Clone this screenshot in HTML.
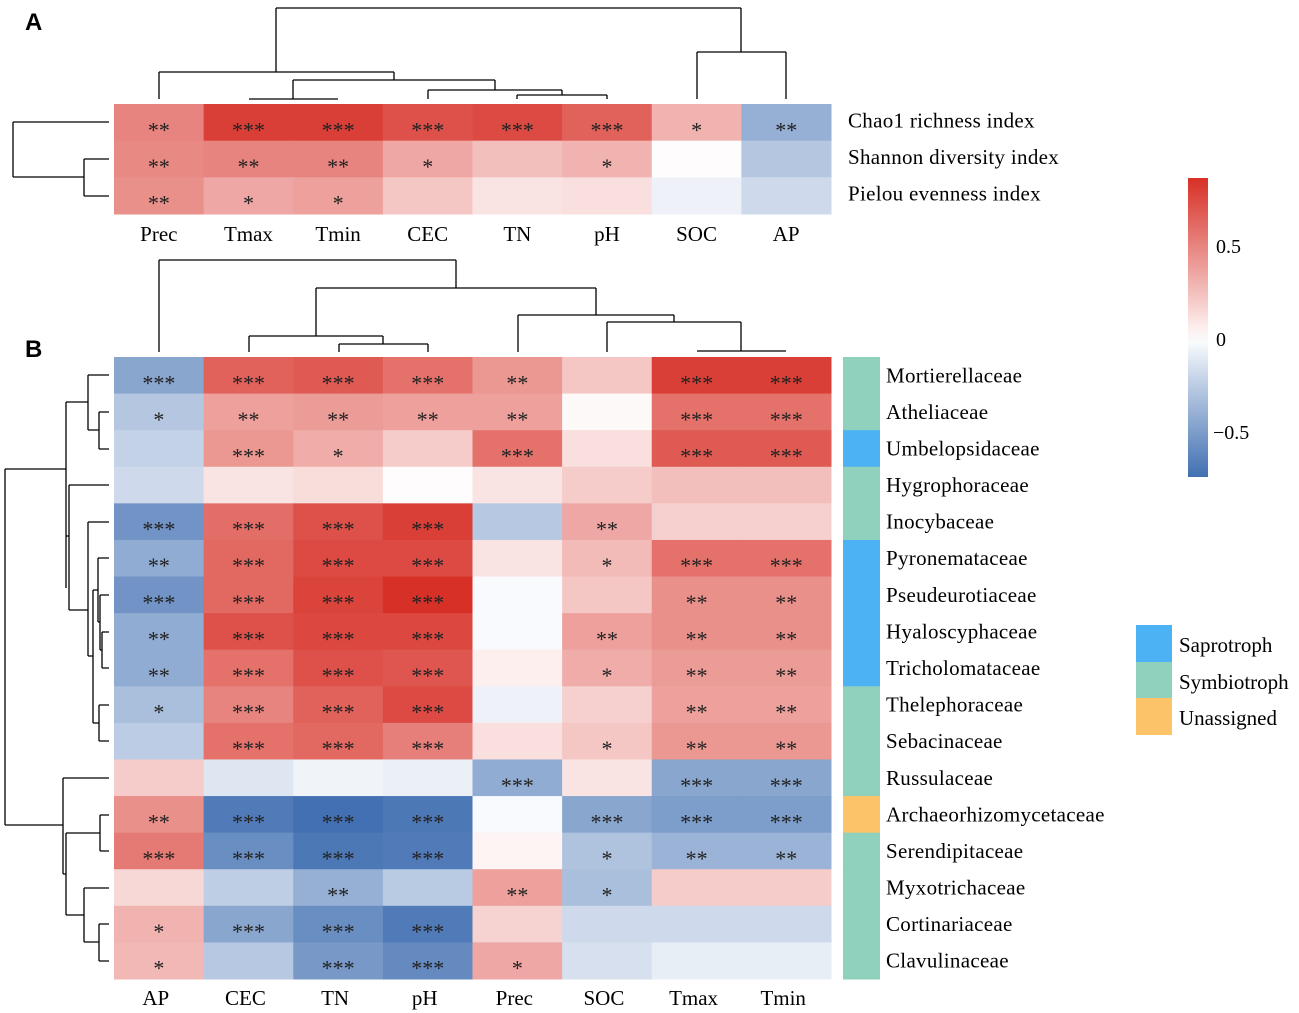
<!DOCTYPE html>
<html><head><meta charset="utf-8"><style>
html,body{margin:0;padding:0;background:#fff;}
svg{display:block;font-family:"Liberation Serif",serif;}
</style></head><body>
<svg id="fig" width="1299" height="1013" viewBox="0 0 1299 1013" xmlns="http://www.w3.org/2000/svg">
<g id="dendro" fill="none" stroke="#000" stroke-width="1.3">
<path d="M276,8H741 M276,8V72 M159,72H394 M159,72V99 M394,72V80 M293,80H495 M293,80V99 M249,99H338 M495,80V90 M428,90H562 M428,90V99 M562,90V95 M517,95H607 M517,95V99 M607,95V99 M741,8V52 M697,52H786 M697,52V99 M786,52V99"/>
<path d="M13,122V177 M13,122H109 M13,177H84 M84,159V196 M84,159H109 M84,196H109"/>
<path d="M159,260H456 M159,260V352 M456,260V288 M316,288H596 M316,288V336 M249,336H383 M249,336V352 M383,336V344 M339,344H428 M339,344V352 M428,344V352 M596,288V315 M518,315H674 M518,315V352 M674,315V322 M607,322H741 M607,322V352 M741,322V351 M697,351H786"/>
<path d="M5,469V825 M5,469H66 M5,825H63
M66,402V588 M66,402H88 M88,375V430 M88,375H109 M88,430H99 M99,412V449 M99,412H109 M99,449H109
M66,536H69 M69,485V610 M69,485H109 M69,610H88 M88,522V656 M88,522H109 M88,656H93 M93,590V723 M93,590H98 M98,558V622 M98,558H109 M98,622H100 M100,595V650 M100,595H109 M100,650H102 M102,632V668 M102,632H109 M102,668H109 M93,723H99 M99,705V741 M99,705H109 M99,741H109
M63,778V874 M63,778H109 M63,874H66 M66,833V915 M66,833H100 M100,815V851 M100,815H109 M100,851H109 M66,915H84 M84,888V942 M84,888H109 M84,942H99 M99,924V961 M99,924H109 M99,961H109"/>
</g>
<g id="cellsA"></g>
<g id="cellsB"></g>
<g id="annot"></g>
<g id="labels"></g>
<text x="25" y="30" font-family="Liberation Sans, sans-serif" font-weight="bold" font-size="24">A</text>
<text x="25" y="357" font-family="Liberation Sans, sans-serif" font-weight="bold" font-size="24">B</text>
<defs><linearGradient id="cbg" x1="0" y1="0" x2="0" y2="1"></linearGradient></defs>
<rect x="1188" y="178" width="20" height="299" fill="url(#cbg)"/>
<text x="1216" y="253" font-size="20">0.5</text>
<text x="1216" y="346" font-size="20">0</text>
<text x="1213" y="439" font-size="20">−0.5</text>
<g>
<rect x="1136" y="625" width="36" height="37" fill="#4DB2F3"/>
<rect x="1136" y="662" width="36" height="36" fill="#8FD1BD"/>
<rect x="1136" y="698" width="36" height="37" fill="#FCC369"/>
<text x="1179" y="652" font-size="21">Saprotroph</text>
<text x="1179" y="689" font-size="21">Symbiotroph</text>
<text x="1179" y="725" font-size="21">Unassigned</text>
</g>
</svg>
<script>
const colsA = ["Prec","Tmax","Tmin","CEC","TN","pH","SOC","AP"];
const rowsA = ["Chao1 richness index","Shannon diversity index","Pielou evenness index"];
const valsA0 = [0.5,0.8,0.8,0.72,0.75,0.65,0.3,-0.4];
const valsA1 = [0.48,0.5,0.5,0.35,0.25,0.3,0.01,-0.28];
const valsA2 = [0.45,0.35,0.38,0.22,0.1,0.12,-0.06,-0.18];
const starsA0 = ["**","***","***","***","***","***","*","**"];
const starsA1 = ["**","**","**","*","","*","",""];
const starsA2 = ["**","*","*","","","","",""];

const colsB = ["AP","CEC","TN","pH","Prec","SOC","Tmax","Tmin"];
const rowsB = ["Mortierellaceae","Atheliaceae","Umbelopsidaceae","Hygrophoraceae","Inocybaceae","Pyronemataceae","Pseudeurotiaceae","Hyaloscyphaceae","Tricholomataceae","Thelephoraceae","Sebacinaceae","Russulaceae","Archaeorhizomycetaceae","Serendipitaceae","Myxotrichaceae","Cortinariaceae","Clavulinaceae"];
const trophB = ["Symbiotroph","Symbiotroph","Saprotroph","Symbiotroph","Symbiotroph","Saprotroph","Saprotroph","Saprotroph","Saprotroph","Symbiotroph","Symbiotroph","Symbiotroph","Unassigned","Symbiotroph","Symbiotroph","Symbiotroph","Symbiotroph"];
const valsB = [
[-0.45,0.65,0.68,0.58,0.42,0.22,0.8,0.8],
[-0.28,0.38,0.4,0.38,0.38,0.02,0.58,0.58],
[-0.22,0.42,0.33,0.2,0.58,0.12,0.68,0.68],
[-0.18,0.1,0.13,0.01,0.1,0.2,0.25,0.25],
[-0.55,0.6,0.72,0.8,-0.27,0.35,0.18,0.18],
[-0.42,0.62,0.75,0.75,0.1,0.27,0.58,0.58],
[-0.55,0.62,0.78,0.88,-0.02,0.22,0.45,0.45],
[-0.42,0.72,0.76,0.76,-0.02,0.38,0.45,0.45],
[-0.42,0.58,0.72,0.7,0.06,0.33,0.4,0.4],
[-0.32,0.5,0.65,0.75,-0.06,0.18,0.38,0.38],
[-0.25,0.58,0.62,0.52,0.12,0.22,0.42,0.42],
[0.2,-0.12,-0.05,-0.07,-0.42,0.1,-0.45,-0.45],
[0.45,-0.68,-0.75,-0.7,-0.02,-0.45,-0.5,-0.5],
[0.55,-0.58,-0.7,-0.68,0.04,-0.3,-0.38,-0.38],
[0.15,-0.24,-0.4,-0.26,0.38,-0.32,0.2,0.2],
[0.3,-0.45,-0.58,-0.68,0.17,-0.18,-0.18,-0.18],
[0.28,-0.27,-0.52,-0.6,0.35,-0.15,-0.08,-0.08]];
const starsB = [
["***","***","***","***","**","","***","***"],
["*","**","**","**","**","","***","***"],
["","***","*","","***","","***","***"],
["","","","","","","",""],
["***","***","***","***","","**","",""],
["**","***","***","***","","*","***","***"],
["***","***","***","***","","","**","**"],
["**","***","***","***","","**","**","**"],
["**","***","***","***","","*","**","**"],
["*","***","***","***","","","**","**"],
["","***","***","***","","*","**","**"],
["","","","","***","","***","***"],
["**","***","***","***","","***","***","***"],
["***","***","***","***","","*","**","**"],
["","","**","","**","*","",""],
["*","***","***","***","","","",""],
["*","","***","***","*","","",""]];

const NS="http://www.w3.org/2000/svg";
const VMAX=0.866, VMIN=-0.742;
const RED=[215,48,39], BLUE=[66,112,178];
function color(v){
  let t, c;
  if(v>=0){t=Math.min(1,v/VMAX);c=RED;}else{t=Math.min(1,v/VMIN);c=BLUE;}
  t=Math.pow(t,0.95);
  const r=Math.round(255+(c[0]-255)*t),g=Math.round(255+(c[1]-255)*t),b=Math.round(255+(c[2]-255)*t);
  return `rgb(${r},${g},${b})`;
}
function mk(tag,attrs,parent){const e=document.createElementNS(NS,tag);for(const k in attrs)e.setAttribute(k,attrs[k]);parent.appendChild(e);return e;}

const grad=document.getElementById('cbg');
for(let i=0;i<=20;i++){const f=i/20;const v=VMAX+(VMIN-VMAX)*f;mk('stop',{offset:f,'stop-color':color(v)},grad);}

function heat(group,x0,y0,cw,ch,cols,rows,vals,stars,prefix){
  rows.forEach((rn,i)=>{
    cols.forEach((cn,j)=>{
      const r=mk('rect',{x:x0+j*cw,y:y0+i*ch,width:cw+0.5,height:ch+0.5,fill:color(vals[i][j])},group);
      
      
      if(stars[i][j]){
        const t=mk('text',{x:x0+(j+0.5)*cw,y:y0+(i+0.5)*ch+15,'text-anchor':'middle','font-size':'22','font-family':'Liberation Serif, serif',fill:'#222'},group);
        t.textContent=stars[i][j];
        
        
      }
    });
  });
}
const gA=document.getElementById('cellsA'), gB=document.getElementById('cellsB'), gL=document.getElementById('labels'), gN=document.getElementById('annot');
const AX0=114, AY0=104, CW=(831-114)/8, AH=(214-104)/3;
const valsA=[valsA0,valsA1,valsA2], starsA=[starsA0,starsA1,starsA2];
heat(gA,AX0,AY0,CW,AH,colsA,rowsA,valsA,starsA,'panel-a');
const BY0=357, BH=(979-357)/17;
heat(gB,AX0,BY0,CW,BH,colsB,rowsB,valsB,starsB,'panel-b');

colsA.forEach((c,j)=>{const t=mk('text',{x:AX0+(j+0.5)*CW,y:241,'text-anchor':'middle','font-size':'21'},gL);t.textContent=c;
  
  });
rowsA.forEach((r,i)=>{const t=mk('text',{x:848,y:AY0+(i+0.5)*AH+5,'font-size':'21','letter-spacing':'0.3'},gL);t.textContent=r;
  
  });
colsB.forEach((c,j)=>{const t=mk('text',{x:AX0+(j+0.5)*CW-3,y:1005,'text-anchor':'middle','font-size':'21'},gL);t.textContent=c;
  
  });
const TC={Saprotroph:'#4DB2F3',Symbiotroph:'#8FD1BD',Unassigned:'#FCC369'};
rowsB.forEach((r,i)=>{
  const a=mk('rect',{x:843,y:BY0+i*BH,width:37,height:BH+0.5,fill:TC[trophB[i]]},gN);
  
  
  const t=mk('text',{x:886,y:BY0+(i+0.5)*BH+7,'font-size':'21','letter-spacing':'0.3'},gL);t.textContent=r;
  
  
});
</script>
</body></html>
